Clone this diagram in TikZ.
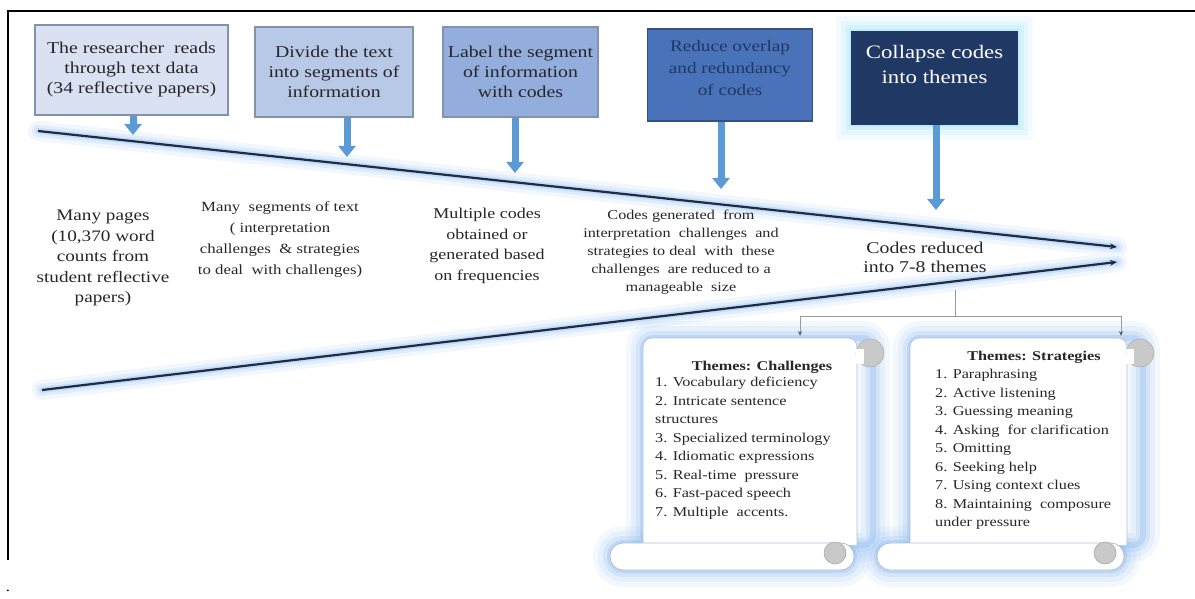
\documentclass[tikz,border=0pt]{standalone}
\usepackage{fontspec}
\setmainfont{Liberation Serif}[FakeStretch=1.2]
\usetikzlibrary{positioning,arrows.meta}
\definecolor{bxa}{HTML}{D9E1F2}
\definecolor{bxb}{HTML}{B8C9E8}
\definecolor{bxc}{HTML}{93AEDD}
\definecolor{bxd}{HTML}{4A72B8}
\definecolor{bxe}{HTML}{1F3864}
\definecolor{bxline}{HTML}{8392AB}
\definecolor{arrblue}{HTML}{5B9BD5}
\definecolor{funnel}{HTML}{1F2A44}
\definecolor{glowb}{HTML}{8DBBF0}
\definecolor{glowc}{HTML}{8EDCF6}
\definecolor{txt}{HTML}{262626}
\definecolor{curl}{HTML}{C9C9C9}
\definecolor{rollline}{HTML}{B4BFD0}

\begin{document}
\begin{tikzpicture}[x=1pt,y=-1pt,
  box/.style={draw=bxline,line width=1.2pt,align=center,inner sep=2pt,text=txt},
  barr/.style={arrblue,line width=7pt,-{Triangle[width=17pt,length=11pt]}},
  ftext/.style={align=center,text=txt,inner sep=0pt},
  conn/.style={draw=gray!80,line width=.8pt},
  ctip/.style={-{Stealth[length=5pt,width=4pt,color=funnel]}},
  flist/.style={align=left,anchor=north west,inner sep=0pt,text=txt,font=\fontsize{13.5}{18.5}\selectfont},
  fhead/.style={text=txt,inner sep=0pt,font=\bfseries\fontsize{13.5}{16}\selectfont}]

\useasboundingbox (0,0) rectangle (1195,599);
\draw[line width=1.5pt] (8,560) -- (8,11) -- (1195,11);
\node[font=\fontsize{14}{14}\selectfont] (pd) at (8,591) {.};

\foreach \w/\o in {32/.1,22/.14,13/.2,6/.3}{
	\draw[glowc,line width=\w pt,opacity=\o] (852,32) rectangle (1017,124);
}
\node[box,fill=bxa,minimum width=193pt,minimum height=90pt,font=\fontsize{16.5}{20}\selectfont] (b1) at (131.5,70) {The researcher\ \ reads\\through text data\\(34 reflective papers)};
\node[box,fill=bxb,minimum width=158pt,minimum height=90pt,font=\fontsize{16.5}{20}\selectfont] (b2) at (334,72) {Divide the text\\into segments of\\information};
\node[box,fill=bxc,minimum width=155pt,minimum height=90pt,font=\fontsize{16.5}{20}\selectfont] (b3) at (520.5,72) {Label the segment\\of information\\with codes};
\node[box,fill=bxd,draw=bxd!70!black,minimum width=165pt,minimum height=92pt,text depth=14pt,text=bxe,font=\fontsize{16}{22}\selectfont] (b4) at (730,75) {Reduce overlap\\and redundancy\\of codes};
\node[box,fill=bxe,draw=bxe,minimum width=165pt,minimum height=92pt,text depth=28pt,text=white,font=\fontsize{19}{25}\selectfont] (b5) at (934.5,78) {Collapse codes\\into themes};

\foreach[count=\c] \x/\y in {133/135,347/157,515/173,721/189,936/210}{
	\coordinate (a\c) at (\x,\y);
	\draw[barr] (b\c.south -| a\c) -- (a\c);
}

\coordinate (u0) at (38,131);
\coordinate (u1) at (1117,247);
\coordinate (l0) at (42,390);
\coordinate (l1) at (1117,262);
\foreach \w/\o in {20/.12,12/.18,6/.3}{
	\draw[glowb,line width=\w pt,opacity=\o,line cap=round] (u0) -- (u1) (l0) -- (l1);
}
\draw[funnel,line width=2.2pt,-{Stealth[length=7pt,width=6pt]}] (u0) -- (u1);
\draw[funnel,line width=2.2pt,-{Stealth[length=7pt,width=6pt]}] (l0) -- (l1);

\node[ftext,font=\fontsize{16}{20.5}\selectfont] (t1) at (103,258) {Many pages\\(10,370 word\\counts from\\student reflective\\papers)};
\node[ftext,font=\fontsize{14}{21}\selectfont] (t2) at (280,240) {Many\ \ segments of text\\( interpretation\\challenges\ \ \& strategies\\to deal\ \ with challenges)};
\node[ftext,font=\fontsize{15}{20.5}\selectfont] (t3) at (487,246) {Multiple codes\\obtained or\\generated based\\on frequencies};
\node[ftext,font=\fontsize{13.5}{18}\selectfont] (t4) at (681,252) {Codes generated\ \ from\\interpretation\ \ challenges\ \ and\\strategies to deal\ \ with\ \ these\\challenges\ \ are reduced to a\\manageable\ \ size};
\node[ftext,font=\fontsize{16.5}{19}\selectfont] (t5) at (925,257) {Codes reduced\\into 7-8 themes};

\coordinate (st) at (955,290);
\coordinate (j) at (955,316);
\coordinate (c1) at (800,336);
\coordinate (c2) at (1121,336);
\draw[conn] (st) -- (j);
\draw[conn,ctip] (j) -| (c1);
\draw[conn,ctip] (j) -| (c2);

\foreach \l/\r/\rl in {643/857/610,910/1127/877}{
	\foreach \w/\o in {34/.1,24/.14,14/.2,6/.35}{
		\draw[glowb,line width=\w pt,opacity=\o,rounded corners=10pt] (\l,338) rectangle (\r+16,545);
		\draw[glowb,line width=\w pt,opacity=\o,rounded corners=13pt] (\rl,543) rectangle (\r-3,570);
	}
}
\foreach \l/\r/\rl in {643/857/610,910/1127/877}{
	\filldraw[fill=white,draw=rollline,line width=.6pt,rounded corners=9pt] (\l,545) -- (\l,338) -- (\r,338) -- (\r,545);
	\filldraw[fill=curl,draw=curl!85!black,line width=.5pt] (\r+13,353) circle (14pt);
	\fill[white] (\r-1,349) rectangle (\r+7,364);
	\filldraw[fill=white,draw=rollline,line width=.8pt,rounded corners=13pt] (\rl,543) rectangle (\r-3,570);
	\filldraw[fill=curl,draw=curl!80!black,line width=.5pt] (\r-22,553) circle (11pt);
}

\node[fhead] (h1) at (762,367) {Themes: Challenges};
\node[flist] (s1) at (655,377) {1. Vocabulary deficiency\\2. Intricate sentence\\structures\\3. Specialized terminology\\4. Idiomatic expressions\\5. Real-time\ \ pressure\\6. Fast-paced speech\\7. Multiple\ \ accents.};
\node[fhead] (h2) at (1034,357) {Themes: Strategies};
\node[flist] (s2) at (935,369) {1. Paraphrasing\\2. Active listening\\3. Guessing meaning\\4. Asking\ \ for clarification\\5. Omitting\\6. Seeking help\\7. Using context clues\\8. Maintaining\ \ composure\\under pressure};

\end{tikzpicture}
\end{document}
